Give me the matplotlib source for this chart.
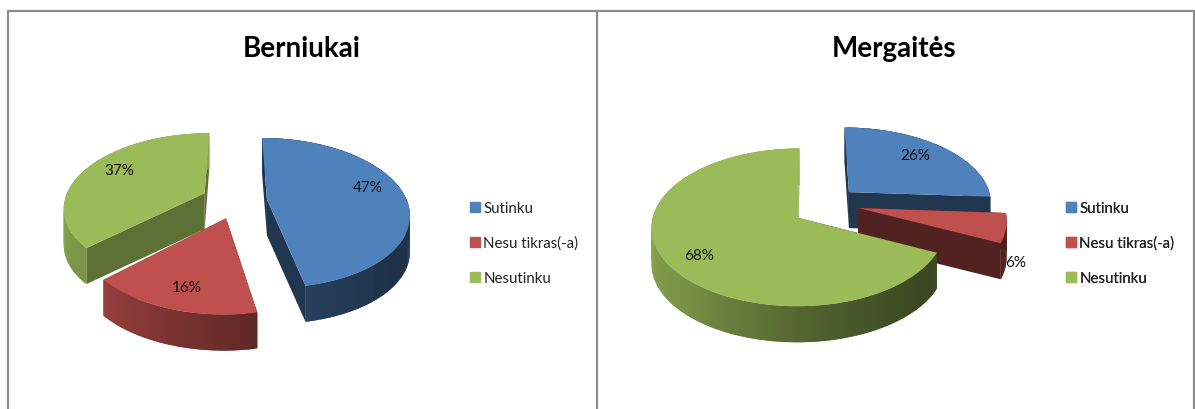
import numpy as np
import matplotlib
matplotlib.use("Agg")
import matplotlib.pyplot as plt
from matplotlib.patches import Polygon, Patch

plt.rcParams["font.family"] = ["Lato", "DejaVu Sans"]

# Datos
categorias = ["Sutinku", "Nesu tikras(-a)", "Nesutinku"]
berniukai = [47, 16, 37]
mergaites = [26, 6, 68]
colores = ["#4f81bd", "#c0504d", "#9bbb59"]

W, H = 1195, 410


def mezclar(color, f):
    rgb = np.array(matplotlib.colors.to_rgb(color))
    return tuple(rgb * f)


def sombra_pared(theta):
    return np.interp(theta, [90, 130, 170, 225, 270, 360],
                     [0.42, 0.38, 0.5, 0.78, 0.88, 0.88])


def sombra_corte(theta):
    return np.interp(theta, [170, 227], [0.42, 0.6])


def pastel3d(ax, valores, cx, cy, rx, ry, p, explode, ajuste_y, orden, grosor, etiquetas):
    # proyeccion con perspectiva: v > 0 hacia el observador
    def proy(u, v):
        f = 1 / (1 - p * np.asarray(v))
        return cx + np.asarray(u) * f * rx, cy + np.asarray(v) * f * ry

    fin = np.cumsum(valores) / np.sum(valores) * 360
    ini = np.r_[0, fin[:-1]]

    for i in orden:
        a, b = ini[i], fin[i]
        med = np.radians((a + b) / 2)
        u0, v0 = explode[i] * np.sin(med), -explode[i] * np.cos(med)
        t = np.linspace(a, b, int(b - a) + 2)
        xr, yr = proy(u0 + np.sin(np.radians(t)), v0 - np.cos(np.radians(t)))
        yr = yr + ajuste_y[i]
        xc, yc = proy(u0, v0)
        yc = yc + ajuste_y[i]

        # caras de corte
        for x1, y1, th in [(xr[0], yr[0], a), (xr[-1], yr[-1], b)]:
            cara = [(xc, yc), (x1, y1), (x1, y1 + grosor), (xc, yc + grosor)]
            col = mezclar(colores[i], sombra_corte(th))
            ax.add_patch(Polygon(cara, fc=col, ec="none"))

        # pared exterior; cada tramo pisa al siguiente para que no queden rayas
        for k in range(len(t) - 1):
            k2 = min(k + 2, len(t) - 1)
            quad = [(xr[k], yr[k]), (xr[k2], yr[k2]),
                    (xr[k2], yr[k2] + grosor), (xr[k], yr[k] + grosor)]
            col = mezclar(colores[i], sombra_pared((t[k] + t[k + 1]) / 2))
            ax.add_patch(Polygon(quad, fc=col, ec="none"))

        # cara superior
        sup = [(xc, yc)] + list(zip(xr, yr))
        ax.add_patch(Polygon(sup, fc=colores[i], ec="none"))

    for v, (x, y) in zip(valores, etiquetas):
        ax.text(x, y, f"{v}%", ha="center", va="center", fontsize=11,
                color="#111111", zorder=10)


fig = plt.figure(figsize=(W / 100, H / 100), dpi=100)
ax = fig.add_axes([0, 0, 1, 1])
ax.set_xlim(0, W)
ax.set_ylim(H, 0)
ax.axis("off")

# marcos de los dos paneles (abiertos por abajo)
gris = "#8c8c8c"
ax.plot([8, 8, 597.5, 597.5], [H, 11.5, 11.5, H], color=gris, lw=1.6)
ax.plot([597.5, 1194], [11.5, 11.5], color=gris, lw=1.6)
ax.plot([1194, 1194], [11.5, H], color=gris, lw=1.6)

ax.text(302, 49, "Berniukai", ha="center", va="center", fontsize=20,
        fontweight="bold", color="black")
ax.text(894, 49, "Mergaitės", ha="center", va="center", fontsize=20,
        fontweight="bold", color="black")

pastel3d(ax, berniukai, 235, 202, 140, 73, 0.18, [0.23, 0.20, 0.24], [0, 3, -1], [2, 0, 1], 36,
         [(368, 188), (187, 288), (119, 171)])
pastel3d(ax, mergaites, 807, 216, 145, 77, 0.12, [0.41, 0.36, 0.07], [-2, -14, 0], [0, 1, 2], 36,
         [(915, 156), (1016, 263), (699, 256)])

manijas = [Patch(fc=c, ec=c) for c in colores]
for x in [457, 1053]:
    ley = ax.legend(manijas, categorias, loc="center left", bbox_to_anchor=(x, 244),
                    bbox_transform=ax.transData, frameon=False, fontsize=10.8,
                    handlelength=0.65, handleheight=0.65, handletextpad=0.2,
                    labelspacing=1.4, labelcolor="#222222")
    ax.add_artist(ley)

fig.savefig("out.png", dpi=100)
plt.close(fig)
